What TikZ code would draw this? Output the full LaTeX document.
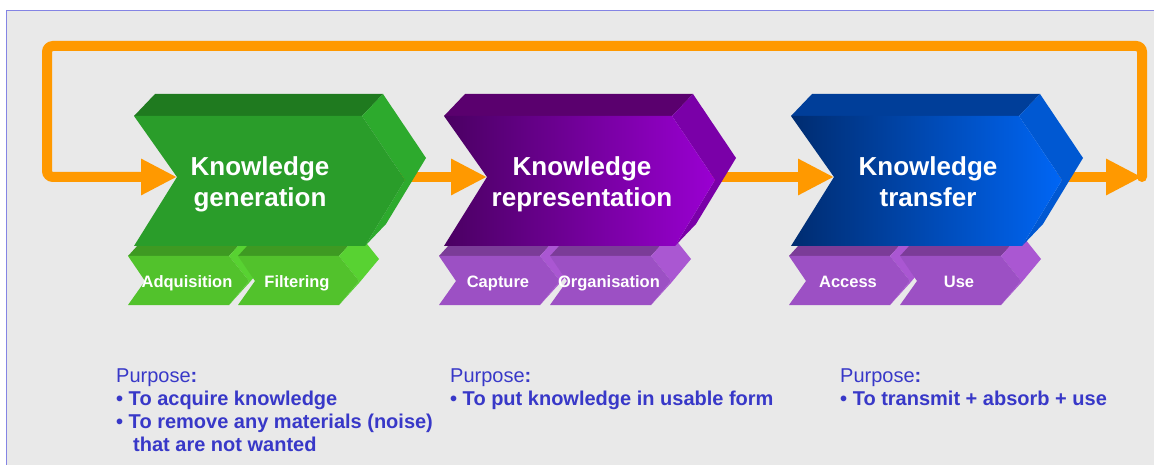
\documentclass[tikz,border=0pt]{standalone}
\usepackage{fontspec}
\setmainfont{Liberation Sans}
\usetikzlibrary{arrows.meta,backgrounds}

\definecolor{bgray}{HTML}{E9E9E9}
\definecolor{frameblue}{HTML}{8484E4}
\definecolor{flowor}{HTML}{FF9900}
\definecolor{txtblue}{HTML}{3838C8}
% main chevrons
\definecolor{gfront}{HTML}{2A9D2A}
\definecolor{gtop}{HTML}{1F7A1F}
\definecolor{gside}{HTML}{2DAA2D}
\definecolor{pleft}{HTML}{4A0062}
\definecolor{pright}{HTML}{9A00D2}
\definecolor{ptop}{HTML}{5A006E}
\definecolor{pside}{HTML}{7A00A8}
\definecolor{bleft}{HTML}{002C70}
\definecolor{bright}{HTML}{0066F5}
\definecolor{btop}{HTML}{003E99}
\definecolor{bside}{HTML}{0058D2}
% small chevrons
\definecolor{lgfront}{HTML}{52C22C}
\definecolor{lgtop}{HTML}{3E9A22}
\definecolor{lgside}{HTML}{58D232}
\definecolor{lpfront}{HTML}{9C50C4}
\definecolor{lptop}{HTML}{7B3C98}
\definecolor{lpside}{HTML}{AA57D2}

\tikzset{
  flow/.style={draw=flowor, line width=10pt, -{Triangle[length=36pt,width=34pt]}},
  maintext/.style={text=white, align=center, inner sep=0pt, anchor=north,
    font=\fontsize{26}{31}\selectfont\bfseries},
  subtext/.style={text=white, inner sep=0pt, text height=12pt, text depth=3.5pt,
    font=\fontsize{16.5}{20}\selectfont\bfseries},
  purpose/.style={text=txtblue, align=left, inner sep=0pt, anchor=north west,
    font=\fontsize{20}{23}\selectfont},
  kgreen/.style={chevtop/.style={fill=gtop}, chevside/.style={fill=gside},
    chevfront/.style={fill=gfront}},
  kpurple/.style={chevtop/.style={fill=ptop}, chevside/.style={fill=pside},
    chevfront/.style={left color=pleft, right color=pright}},
  kblue/.style={chevtop/.style={fill=btop}, chevside/.style={fill=bside},
    chevfront/.style={left color=bleft, right color=bright}},
  klgreen/.style={chevtop/.style={fill=lgtop}, chevside/.style={fill=lgside},
    chevfront/.style={fill=lgfront}},
  klpurple/.style={chevtop/.style={fill=lptop}, chevside/.style={fill=lpside},
    chevfront/.style={fill=lpfront}},
  pics/bigchev/.style n args={2}{code={
    \fill[chevtop] (0,0) -- (21,-22) -- (249,-22) -- (228,0) -- cycle;
    \fill[chevside] (228,0) -- (249,-22) -- (292,42) -- (252,108) -- (231,130) -- (271,64) -- cycle;
    \path[chevfront] (0,0) -- (228,0) -- (271,64) -- (231,130) -- (0,130) -- (43,61) -- cycle;
    \coordinate (-in) at (43,61);
    \coordinate (-out) at (250,61);
    \node[maintext] (-label) at (#1,40) {#2};
  }},
  pics/subchev/.style={code={
    \fill[chevtop] (0,0) -- (20,-22) -- (121,-22) -- (101,0) -- cycle;
    \fill[chevside] (101,0) -- (121,-22) -- (141,3) -- (121,27) -- (101,49) -- (121,25) -- cycle;
    \path[chevfront] (0,0) -- (101,0) -- (121,25) -- (101,49) -- (0,49) -- (17,25) -- cycle;
    \node[subtext] (-label) at (59,27) {#1};
  }},
}

\begin{document}
\begin{tikzpicture}[x=1pt,y=-1pt]
  \useasboundingbox (0,0) rectangle (1154,465);

  % sub steps, behind the main steps
  \pic[klgreen] (acq) at (128,256) {subchev=Adquisition};
  \pic[klgreen] (fil) at (238,256) {subchev=Filtering};
  \pic[klpurple] (cap) at (439,256) {subchev=Capture};
  \pic[klpurple] (org) at (550,256) {subchev=Organisation};
  \pic[klpurple] (acc) at (789,256) {subchev=Access};
  \pic[klpurple] (use) at (900,256) {subchev=Use};

  % main steps
  \pic[kgreen] (gen) at (134,116) {bigchev={126}{Knowledge\\generation}};
  \pic[kpurple] (rep) at (444,116) {bigchev={138}{Knowledge\\representation}};
  \pic[kblue] (tra) at (791,116) {bigchev={137}{Knowledge\\transfer}};

  \coordinate (cornerR) at (1142,177);
  \coordinate (topR) at (1142,46);
  \coordinate (topL) at (47,46);
  \coordinate (botL) at (47,177);

  \begin{scope}[on background layer]
    \fill[bgray] (6,10) rectangle (1160,470);
    \draw[frameblue] (6,470) -- (6,10) -- (1160,10);
    \draw[flow] (gen-out) -- (rep-in);
    \draw[flow] (rep-out) -- (tra-in);
    \draw[flow] (tra-out) -- (cornerR);
    \draw[flow, rounded corners=6pt, line cap=round] (cornerR) -- (topR) -- (topL) -- (botL) -- (gen-in);
  \end{scope}

  % purposes
  \node[purpose] (purgen) at (116,369) {Purpose\textbf{:}\\
    \textbf{• To acquire knowledge}\\
    \textbf{• To remove any materials (noise)}\\
    \hspace*{17pt}\textbf{that are not wanted}};
  \node[purpose] (purrep) at (450,369) {Purpose\textbf{:}\\
    \textbf{• To put knowledge in usable form}};
  \node[purpose] (purtra) at (840,369) {Purpose\textbf{:}\\
    \textbf{• To transmit + absorb + use}};
\end{tikzpicture}
\end{document}
